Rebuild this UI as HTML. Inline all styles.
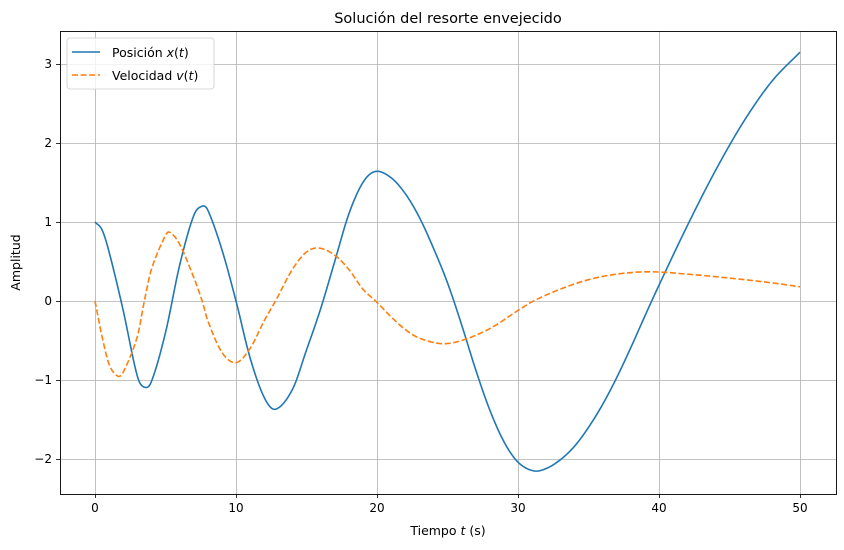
<!DOCTYPE html>
<html><head><meta charset="utf-8"><style>
body{margin:0;background:#fff;}
svg{display:block;font-family:"DejaVu Sans","Liberation Sans",sans-serif;}
</style></head><body>
<svg id="chart" width="844" height="550"></svg>
<script>
const xTicks=[0,10,20,30,40,50];
const yTicks=[-2,-1,0,1,2,3];
const posT=[0,0.5,1,2,3,3.5,4,5,6,7,7.6,8,9,10,11,12,12.8,14,15,16,17,18,19,19.9,21,22,23,24,25,26,27,28,29,30,31.1,32,33,34,35,36,37,38,39,40,42,44,46,48,50];
const posX=[1.0,0.9,0.62,-0.12,-0.95,-1.09,-1.02,-0.4,0.45,1.08,1.2,1.15,0.65,0.0,-0.72,-1.22,-1.37,-1.12,-0.62,-0.1,0.5,1.1,1.5,1.64,1.56,1.36,1.06,0.67,0.23,-0.3,-0.87,-1.38,-1.78,-2.04,-2.15,-2.12,-2.01,-1.84,-1.6,-1.31,-0.97,-0.59,-0.19,0.2,0.95,1.65,2.27,2.78,3.15];
const velT=[0,0.5,1,1.6,2,3,3.5,4,5,5.3,6,7,7.6,8,9,10,11,12,12.8,14,15,15.9,17,18,19,19.9,21,22,23,24.6,26,28,30,31.1,33,35,37,39.3,42,45,48,50];
const velV=[0,-0.45,-0.8,-0.95,-0.9,-0.45,0,0.4,0.83,0.87,0.72,0.3,0,-0.25,-0.65,-0.78,-0.6,-0.25,0,0.4,0.62,0.67,0.58,0.4,0.15,0,-0.2,-0.36,-0.47,-0.54,-0.5,-0.35,-0.12,0,0.15,0.27,0.34,0.37,0.34,0.29,0.23,0.18];
const L=60,R=836,T=31,B=494;
const sx=t=>95+t*(800-95)/50;
const sy=v=>301-v*79;
const svg=document.getElementById('chart');
const NS='http://www.w3.org/2000/svg';
function mk(tag,attrs,parent){const e=document.createElementNS(NS,tag);for(const k in attrs)e.setAttribute(k,attrs[k]);(parent||svg).appendChild(e);return e;}
function path(ts,vs){const n=ts.length,m=[];
for(let i=0;i<n;i++){const a=Math.max(0,i-1),b=Math.min(n-1,i+1);m.push((vs[b]-vs[a])/(ts[b]-ts[a]));}
let d='M'+sx(ts[0]).toFixed(2)+','+sy(vs[0]).toFixed(2);
for(let i=0;i<n-1;i++){const h=ts[i+1]-ts[i];const S=12;
for(let k=1;k<=S;k++){const u=k/S,u2=u*u,u3=u2*u;
const y=(2*u3-3*u2+1)*vs[i]+(u3-2*u2+u)*h*m[i]+(-2*u3+3*u2)*vs[i+1]+(u3-u2)*h*m[i+1];
d+=' L'+sx(ts[i]+u*h).toFixed(2)+','+sy(y).toFixed(2);}}
return d;}
const grid=mk('g',{});

xTicks.forEach(t=>{const X=Math.round(sx(t))+0.5;mk('line',{x1:X,x2:X,y1:T,y2:B,stroke:'#b0b0b0','stroke-width':0.8},grid);
mk('line',{x1:X,x2:X,y1:B,y2:B+4,stroke:'#000','stroke-width':0.8});
const tx=mk('text',{x:sx(t),y:B+18,'text-anchor':'middle','font-size':'12'});tx.textContent=t;
});
yTicks.forEach(v=>{const Y=Math.round(sy(v))+0.5;mk('line',{x1:L,x2:R,y1:Y,y2:Y,stroke:'#b0b0b0','stroke-width':0.8},grid);
mk('line',{x1:L-4,x2:L,y1:Y,y2:Y,stroke:'#000','stroke-width':0.8});
const tx=mk('text',{x:L-8,y:sy(v)+4,'text-anchor':'end','font-size':'12'});tx.textContent=(v<0?'\u2212'+(-v):v);
});
const cp=mk('clipPath',{id:'c'});mk('rect',{x:L,y:T,width:R-L,height:B-T},cp);
const l1=mk('path',{d:path(posT,posX),fill:'none',stroke:'#1f77b4','stroke-width':1.6,'clip-path':'url(#c)','stroke-linejoin':'round'});

const l2=mk('path',{d:path(velT,velV),fill:'none',stroke:'#ff7f0e','stroke-width':1.6,'stroke-dasharray':'6,2.6','clip-path':'url(#c)'});

const fr=mk('rect',{x:L+0.5,y:T+0.5,width:R-L,height:B-T,fill:'none',stroke:'#000','stroke-width':0.9});

const ti=mk('text',{x:(L+R)/2,y:23,'text-anchor':'middle','font-size':'14.5'});ti.textContent='Solución del resorte envejecido';

const xl=mk('text',{x:(L+R)/2,y:535,'text-anchor':'middle','font-size':'12.5'});xl.innerHTML='Tiempo <tspan font-style="italic">t</tspan> (s)';

const yl=mk('text',{x:0,y:0,'text-anchor':'middle','font-size':'12.5',transform:'translate(20,'+((T+B)/2)+') rotate(-90)'});yl.textContent='Amplitud';

const lg=mk('g',{});

mk('rect',{x:67,y:38,width:147,height:51,rx:3,fill:'#fff','fill-opacity':0.8,stroke:'#ccc','stroke-width':0.8},lg);
mk('line',{x1:72,x2:100,y1:52,y2:52,stroke:'#1f77b4','stroke-width':1.6},lg);
mk('line',{x1:72,x2:100,y1:75,y2:75,stroke:'#ff7f0e','stroke-width':1.6,'stroke-dasharray':'6,2.6'},lg);
const e1=mk('text',{x:112,y:57,'font-size':'12.5'},lg);e1.innerHTML='Posición <tspan font-style="italic">x</tspan>(<tspan font-style="italic">t</tspan>)';

const e2=mk('text',{x:112,y:80,'font-size':'12.5'},lg);e2.innerHTML='Velocidad <tspan font-style="italic">v</tspan>(<tspan font-style="italic">t</tspan>)';

</script>
</body></html>
